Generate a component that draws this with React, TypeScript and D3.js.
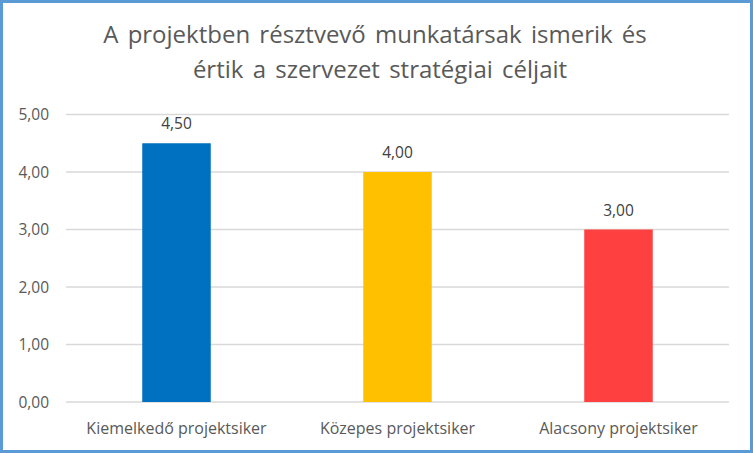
import React from "react";
import * as d3 from "d3";

const categories = ["Kiemelkedő projektsiker", "Közepes projektsiker", "Alacsony projektsiker"];
const values = [4.5, 4.0, 3.0];
const colors = ["#0070C0", "#FFC000", "#FF4040"];
const yTicks = [0, 1, 2, 3, 4, 5];
const titleLines = ["A projektben résztvevő munkatársak ismerik és", "értik a szervezet stratégiai céljait"];

const W = 753, H = 453;
const plot = { left: 66, right: 729, top: 114.5, bottom: 402 };
const fmt = (v: number) => v.toFixed(2).replace(".", ",");
const font = "'Open Sans', sans-serif";

export default function App() {
  const x = d3.scaleBand<string>().domain(categories).range([plot.left, plot.right]).paddingInner(0.69).paddingOuter(0.345);
  const y = d3.scaleLinear().domain([0, 5]).range([plot.bottom, plot.top]);
  return (
    <svg width={W} height={H} style={{ position: "fixed", left: 0, top: 0 }} fontFamily={font}>
      <rect x={1.5} y={1.5} width={W - 3} height={H - 3} fill="#fff" stroke="#5B9BD5" strokeWidth={3} />
      {titleLines.map((t, i) => (
        <text key={i} x={i === 0 ? 375 : 380} y={43 + i * 35} textAnchor="middle" fontSize={24} fill="#595959" wordSpacing={3}>{t}</text>
      ))}
      {yTicks.map((t) => (
        <g key={t}>
          <line x1={plot.left} x2={plot.right} y1={y(t)} y2={y(t)} stroke="#D9D9D9" strokeWidth={1.3} />
          <text x={49} y={y(t) + 5.5} textAnchor="end" fontSize={15.5} fill="#595959">{fmt(t)}</text>
        </g>
      ))}
      {categories.map((c, i) => (
        <g key={c}>
          <rect x={x(c)} y={y(values[i])} width={x.bandwidth()} height={y(0) - y(values[i])} fill={colors[i]} />
          <text x={x(c)! + x.bandwidth() / 2} y={y(values[i]) - 14} textAnchor="middle" fontSize={15.5} fill="#404040">{fmt(values[i])}</text>
          <text x={x(c)! + x.bandwidth() / 2} y={434} textAnchor="middle" fontSize={16} fill="#595959">{c}</text>
        </g>
      ))}
    </svg>
  );
}
